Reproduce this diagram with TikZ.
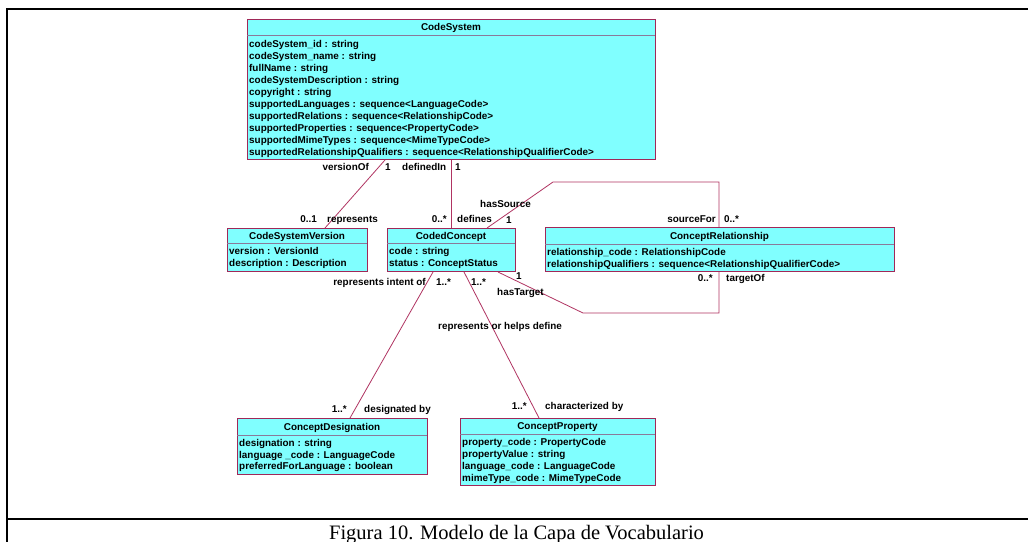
\documentclass[tikz,border=0pt]{standalone}
\usepackage{fontspec}
\setmainfont{Liberation Serif}
\newfontfamily\umlfont{Liberation Sans}
\definecolor{boxfill}{HTML}{80FFFF}
\definecolor{boxline}{HTML}{A02858}
\definecolor{sepline}{HTML}{8A7A9A}
\definecolor{conn}{HTML}{B03462}
\tikzset{
  classbox/.style={draw=boxline, fill=boxfill, line width=1pt, anchor=north west, inner sep=0pt},
  umltitle/.style={font=\umlfont\bfseries\fontsize{9.9}{12}\selectfont, inner sep=0pt, anchor=base},
  attr/.style={font=\umlfont\bfseries\fontsize{9.9}{12}\selectfont, inner sep=0pt, anchor=base west},
  lbl/.style={font=\umlfont\bfseries\fontsize{9.9}{12}\selectfont, inner sep=0pt},
  lblw/.style={lbl, anchor=base west},
  lble/.style={lbl, anchor=base east},
  assoc/.style={draw=conn, line width=0.8pt},
  sepl/.style={draw=sepline, line width=1pt},
  framel/.style={line width=2.2pt, draw=black}
}
\begin{document}
\begin{tikzpicture}[x=1pt,y=-1pt]
\useasboundingbox (0,0) rectangle (1028,541);
\fill[white] (0,0) rectangle (1028,541);
% frame
\draw[framel] (1030,9) -- (7,9) -- (7,543);
\draw[framel] (7,519) -- (1030,519);

% CodeSystem
\node[classbox, minimum width=408pt, minimum height=140pt] (cs) at (247,19) {};
\draw[sepl] (247,35) -- (655,35);
\node[umltitle] (cst) at (451,30.8) {CodeSystem};
\foreach \t [count=\i from 0] in {
  codeSystem\_id : string,
  codeSystem\_name : string,
  fullName : string,
  codeSystemDescription : string,
  copyright : string,
  supportedLanguages : sequence<LanguageCode>,
  supportedRelations : sequence<RelationshipCode>,
  supportedProperties : sequence<PropertyCode>,
  supportedMimeTypes : sequence<MimeTypeCode>,
  supportedRelationshipQualifiers : sequence<RelationshipQualifierCode>}
  \node[attr] (csa\i) at (249,{47+12*\i}) {\t};

% CodeSystemVersion
\node[classbox, minimum width=140pt, minimum height=43pt] (csv) at (227,228) {};
\draw[sepl] (227,243) -- (367,243);
\node[umltitle] (csvt) at (297,239.2) {CodeSystemVersion};
\node[attr] (csva0) at (229,254.7) {version : VersionId};
\node[attr] (csva1) at (229,266.2) {description : Description};

% CodedConcept
\node[classbox, minimum width=128pt, minimum height=43pt] (cc) at (387,228) {};
\draw[sepl] (387,243) -- (515,243);
\node[umltitle] (cct) at (451,239.2) {CodedConcept};
\node[attr] (cca0) at (389,254.7) {code : string};
\node[attr] (cca1) at (389,266.2) {status : ConceptStatus};

% ConceptRelationship
\node[classbox, minimum width=349pt, minimum height=44pt] (cr) at (545,227) {};
\draw[sepl] (545,244) -- (894,244);
\node[umltitle] (crt) at (719.5,239.2) {ConceptRelationship};
\node[attr] (cra0) at (547,255.7) {relationship\_code : RelationshipCode};
\node[attr] (cra1) at (547,267.2) {relationshipQualifiers : sequence<RelationshipQualifierCode>};

% ConceptDesignation
\node[classbox, minimum width=190pt, minimum height=56pt] (cd) at (237,418) {};
\draw[sepl] (237,435) -- (427,435);
\node[umltitle] (cdt) at (332,430.2) {ConceptDesignation};
\node[attr] (cda0) at (239,446.7) {designation : string};
\node[attr] (cda1) at (239,458.2) {language \_code : LanguageCode};
\node[attr] (cda2) at (239,469.7) {preferredForLanguage : boolean};

% ConceptProperty
\node[classbox, minimum width=195pt, minimum height=67pt] (cp) at (460,418) {};
\draw[sepl] (460,434) -- (655,434);
\node[umltitle] (cpt) at (557.5,429.7) {ConceptProperty};
\node[attr] (cpa0) at (462,445.7) {property\_code : PropertyCode};
\node[attr] (cpa1) at (462,457.5) {propertyValue : string};
\node[attr] (cpa2) at (462,469.3) {language\_code : LanguageCode};
\node[attr] (cpa3) at (462,481.1) {mimeType\_code : MimeTypeCode};

% connectors
\draw[assoc] ([xshift=138pt]cs.south west) -- ([xshift=98pt]csv.north west);
\draw[assoc] ([xshift=204pt]cs.south west) -- ([xshift=64pt]cc.north west);
\coordinate (hs1) at (553,182);
\coordinate (hs2) at (719,182);
\draw[assoc] ([xshift=100pt]cc.north west) -- (hs1) -- (hs2) -- ([xshift=174pt]cr.north west);
\coordinate (ht1) at (583,313);
\coordinate (ht2) at (719,313);
\draw[assoc] ([xshift=111pt]cc.south west) -- (ht1) -- (ht2) -- ([xshift=174pt]cr.south west);
\draw[assoc] ([xshift=46pt]cc.south west) -- ([xshift=113pt]cd.north west);
\draw[assoc] ([xshift=77pt]cc.south west) -- ([xshift=79pt]cp.north west);

% labels
\node[lble] (l1) at (369,170.7) {versionOf};
\node[lblw] (l2) at (385,170.7) {1};
\node[lblw] (l3) at (402,170.7) {definedIn};
\node[lblw] (l4) at (455,170.7) {1};
\node[lble] (l5) at (317,222.7) {0..1};
\node[lblw] (l6) at (327,222.7) {represents};
\node[lble] (l7) at (447,222.7) {0..*};
\node[lblw] (l8) at (457,222.7) {defines};
\node[lblw] (l9) at (480,207.7) {hasSource};
\node[lblw] (l10) at (506,223.7) {1};
\node[lble] (l11) at (716,222.7) {sourceFor};
\node[lblw] (l12) at (724,222.7) {0..*};
\node[lblw] (l13) at (516,279.7) {1};
\node[lblw] (l14) at (497,295.7) {hasTarget};
\node[lble] (l15) at (713,281.7) {0..*};
\node[lblw] (l16) at (726,281.7) {targetOf};
\node[lble] (l17) at (426,285.7) {represents intent of};
\node[lblw] (l18) at (436,285.7) {1..*};
\node[lblw] (l19) at (471,285.7) {1..*};
\node[lblw] (l20) at (438,329.7) {represents or helps define};
\node[lble] (l21) at (347,412.7) {1..*};
\node[lblw] (l22) at (364,412.7) {designated by};
\node[lble] (l23) at (527,409.7) {1..*};
\node[lblw] (l24) at (545,409.7) {characterized by};

% caption
\node[font=\fontsize{20.5}{24}\selectfont, inner sep=0pt, anchor=base] (cap) at (516.5,539) {Figura 10. Modelo de la Capa de Vocabulario};
\end{tikzpicture}
\end{document}
